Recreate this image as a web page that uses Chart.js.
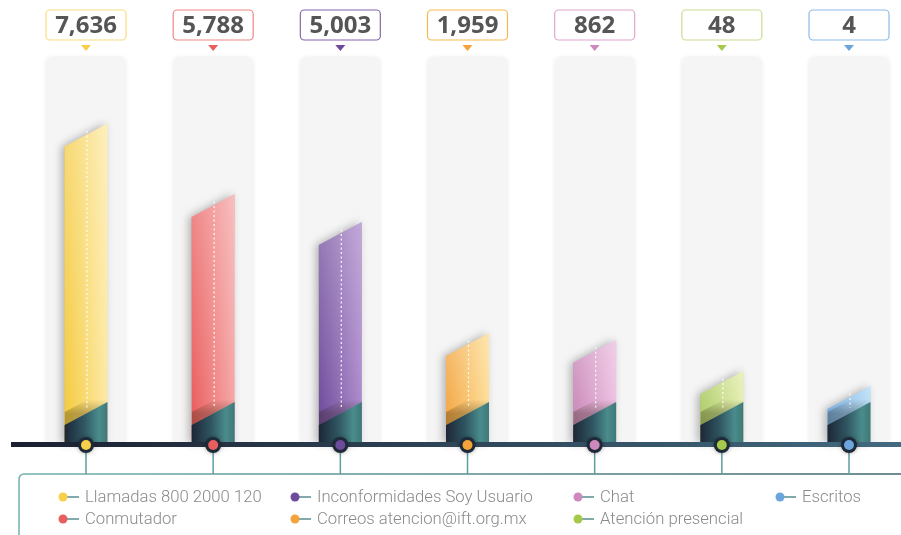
<!DOCTYPE html>
<html>
<head>
<meta charset="utf-8">
<script src="https://cdn.jsdelivr.net/npm/chart.js@4.4.1/dist/chart.umd.min.js"></script>
<style>
  html, body { margin: 0; padding: 0; background: #fff; }
  #wrap { width: 901px; height: 535px; }
</style>
</head>
<body>
<div id="wrap"><canvas id="chart" width="901" height="535"></canvas></div>
<script>
// categories and values shown in the boxes
const categories = ['Llamadas 800 2000 120', 'Conmutador', 'Inconformidades Soy Usuario',
  'Correos atencion@ift.org.mx', 'Chat', 'Atención presencial', 'Escritos'];
const values = [7636, 5788, 5003, 1959, 862, 48, 4];
// visual bar level (0-100 of the grey column)
const barLevel = [83, 64.7, 57.4, 28.6, 26.8, 18.7, 14.8];
const columnFull = [100, 100, 100, 100, 100, 100, 100];

// styles
const dotColors = ['#f7cf48', '#e95f5f', '#6e4a9c', '#f4a23a', '#cf88bd', '#a5c94a', '#6aa6dd'];
const barDark = ['#f4c93a', '#e95858', '#6a4598', '#f2a035', '#c57fb3', '#a3c655', '#5d9bd8'];
const barLight = ['#fde9a2', '#f5a3a3', '#a985c9', '#fddb8c', '#ebbade', '#e0eca2', '#acd8f4'];
const boxBorders = ['#f8dc7e', '#ef8585', '#8466ab', '#f7b850', '#e2a6d1', '#c8de90', '#8dbbe8'];
const legendX = [63, 295, 578, 780];
const legendY = [497, 519];
const SLANT = 23;

const fancy = {
  id: 'fancy',
  beforeDatasetDraw(chart, args) {
    if (args.index === 1) {
      const ctx = chart.ctx;
      ctx.save();
      ctx.shadowColor = 'rgba(0,0,0,0.10)';
      ctx.shadowBlur = 5;
    }
  },
  afterDatasetDraw(chart, args) {
    if (args.index === 1) chart.ctx.restore();
  },
  afterDatasetsDraw(chart) {
    const ctx = chart.ctx;
    const bars = chart.getDatasetMeta(0).data;
    const base = chart.scales.y.getPixelForValue(0);

    bars.forEach((el, i) => {
      const w = el.width;
      const x0 = el.x - w / 2, x1 = el.x + w / 2;
      const topR = el.y, topL = el.y + SLANT;
      const tealR = base - 41, tealL = base - 18;

      // body with shadow
      ctx.save();
      ctx.shadowColor = 'rgba(0,0,0,0.28)';
      ctx.shadowBlur = 9;
      ctx.shadowOffsetX = -3;
      ctx.beginPath();
      ctx.moveTo(x0, topL); ctx.lineTo(x1, topR); ctx.lineTo(x1, base); ctx.lineTo(x0, base); ctx.closePath();
      const hg = ctx.createLinearGradient(x0, 0, x1, 0);
      hg.addColorStop(0, barDark[i]);
      hg.addColorStop(1, barLight[i]);
      ctx.fillStyle = hg;
      ctx.fill();
      ctx.restore();

      ctx.save();
      ctx.beginPath();
      ctx.moveTo(x0, topL); ctx.lineTo(x1, topR); ctx.lineTo(x1, base); ctx.lineTo(x0, base); ctx.closePath();
      ctx.clip();
      const vg = ctx.createLinearGradient(0, topR, 0, base);
      vg.addColorStop(0, 'rgba(255,255,255,0.3)');
      vg.addColorStop(1, 'rgba(255,255,255,0)');
      ctx.fillStyle = vg;
      ctx.fillRect(x0, topR, w, base - topR);
      // dark band above the teal part
      const midT = (tealR + tealL) / 2;
      const sg = ctx.createLinearGradient(0, midT - 14, 0, midT);
      sg.addColorStop(0, 'rgba(40,30,10,0)');
      sg.addColorStop(1, 'rgba(40,30,10,0.3)');
      ctx.fillStyle = sg;
      ctx.beginPath();
      ctx.moveTo(x0, tealL - 13); ctx.lineTo(x1, tealR - 13); ctx.lineTo(x1, tealR); ctx.lineTo(x0, tealL); ctx.closePath();
      ctx.fill();
      ctx.restore();

      // dotted centre line
      const cx = el.x + 1;
      const yTop = topR + SLANT / 2 - 4;
      const yEnd = (tealR + tealL) / 2 - 6;
      ctx.save();
      ctx.strokeStyle = 'rgba(255,255,255,0.85)';
      ctx.lineWidth = 1.3;
      ctx.setLineDash([2, 2.5]);
      ctx.beginPath(); ctx.moveTo(cx, yTop); ctx.lineTo(cx, yEnd); ctx.stroke();
      ctx.restore();

      // teal base
      ctx.beginPath();
      ctx.moveTo(x0, tealL); ctx.lineTo(x1, tealR); ctx.lineTo(x1, base); ctx.lineTo(x0, base); ctx.closePath();
      const tg = ctx.createLinearGradient(x0, 0, x1, 0);
      tg.addColorStop(0, '#1d2636');
      tg.addColorStop(0.45, '#2f5662');
      tg.addColorStop(0.8, '#4a8c8c');
      tg.addColorStop(1, '#3f7878');
      ctx.fillStyle = tg;
      ctx.fill();
    });

    // baseline
    const lg = ctx.createLinearGradient(11, 0, 901, 0);
    lg.addColorStop(0, '#1b2030');
    lg.addColorStop(1, '#426a80');
    ctx.fillStyle = lg;
    ctx.fillRect(11, base - 1, 890, 5);

    // legend frame
    const fg = ctx.createLinearGradient(19, 0, 901, 0);
    fg.addColorStop(0, '#72b0ae');
    fg.addColorStop(1, '#3c6670');
    ctx.strokeStyle = fg;
    ctx.lineWidth = 1.5;
    ctx.beginPath();
    ctx.moveTo(19, 540); ctx.lineTo(19, 479); ctx.arcTo(19, 474, 24, 474, 5); ctx.lineTo(905, 474);
    ctx.stroke();

    // connectors and dots
    bars.forEach((el, i) => {
      const dx = el.x;
      ctx.strokeStyle = '#5f9ea0';
      ctx.lineWidth = 1.5;
      ctx.beginPath(); ctx.moveTo(dx, base + 8); ctx.lineTo(dx, 474); ctx.stroke();
      ctx.save();
      ctx.shadowColor = 'rgba(0,0,0,0.35)';
      ctx.shadowBlur = 4;
      ctx.fillStyle = '#1f2a38';
      ctx.beginPath(); ctx.arc(dx, base + 2, 8, 0, Math.PI * 2); ctx.fill();
      ctx.restore();
      ctx.fillStyle = dotColors[i];
      ctx.beginPath(); ctx.arc(dx, base + 2, 5, 0, Math.PI * 2); ctx.fill();

      // value box
      const bw = 80, bh = 30, by = 10;
      ctx.fillStyle = '#fff';
      ctx.strokeStyle = boxBorders[i];
      ctx.lineWidth = 1.2;
      ctx.beginPath();
      ctx.roundRect(dx - bw / 2, by, bw, bh, 4);
      ctx.fill(); ctx.stroke();
      ctx.fillStyle = '#555';
      ctx.font = 'bold 24px "Open Sans", sans-serif';
      ctx.textAlign = 'center';
      ctx.textBaseline = 'middle';
      ctx.fillText(values[i].toLocaleString('en-US'), dx, by + bh / 2 + 1);
      // small pointer
      ctx.fillStyle = dotColors[i];
      ctx.beginPath();
      ctx.moveTo(dx - 5, 45); ctx.lineTo(dx + 5, 45); ctx.lineTo(dx, 51); ctx.closePath();
      ctx.fill();
    });

    // legend items
    categories.forEach((name, i) => {
      const lx = legendX[Math.floor(i / 2)];
      const ly = legendY[i % 2];
      ctx.strokeStyle = '#3d7d7d';
      ctx.lineWidth = 1.3;
      ctx.beginPath(); ctx.moveTo(lx, ly); ctx.lineTo(lx + 16, ly); ctx.stroke();
      ctx.fillStyle = dotColors[i];
      ctx.beginPath(); ctx.arc(lx, ly, 4.5, 0, Math.PI * 2); ctx.fill();
      ctx.fillStyle = '#8a8a8a';
      ctx.font = '300 16.7px Roboto, sans-serif';
      ctx.textAlign = 'left';
      ctx.textBaseline = 'middle';
      ctx.fillText(name, lx + 22, ly + 1);
    });
  }
};

new Chart(document.getElementById('chart'), {
  type: 'bar',
  data: {
    labels: categories,
    datasets: [
      { data: barLevel, backgroundColor: 'rgba(0,0,0,0)', barThickness: 43, order: 1, clip: false, grouped: false },
      { data: columnFull, backgroundColor: '#f5f5f5', barThickness: 78, order: 2, clip: false, grouped: false,
        borderRadius: { topLeft: 5, topRight: 5 }, borderSkipped: 'bottom' }
    ]
  },
  options: {
    responsive: false,
    devicePixelRatio: 1,
    animation: false,
    layout: { padding: { left: 86, right: 52, top: 58, bottom: 92 } },
    plugins: { legend: { display: false }, tooltip: { enabled: false } },
    scales: {
      x: { type: 'category', offset: false, display: false },
      y: { min: 0, max: 100, display: false }
    }
  },
  plugins: [fancy]
});
</script>
</body>
</html>
